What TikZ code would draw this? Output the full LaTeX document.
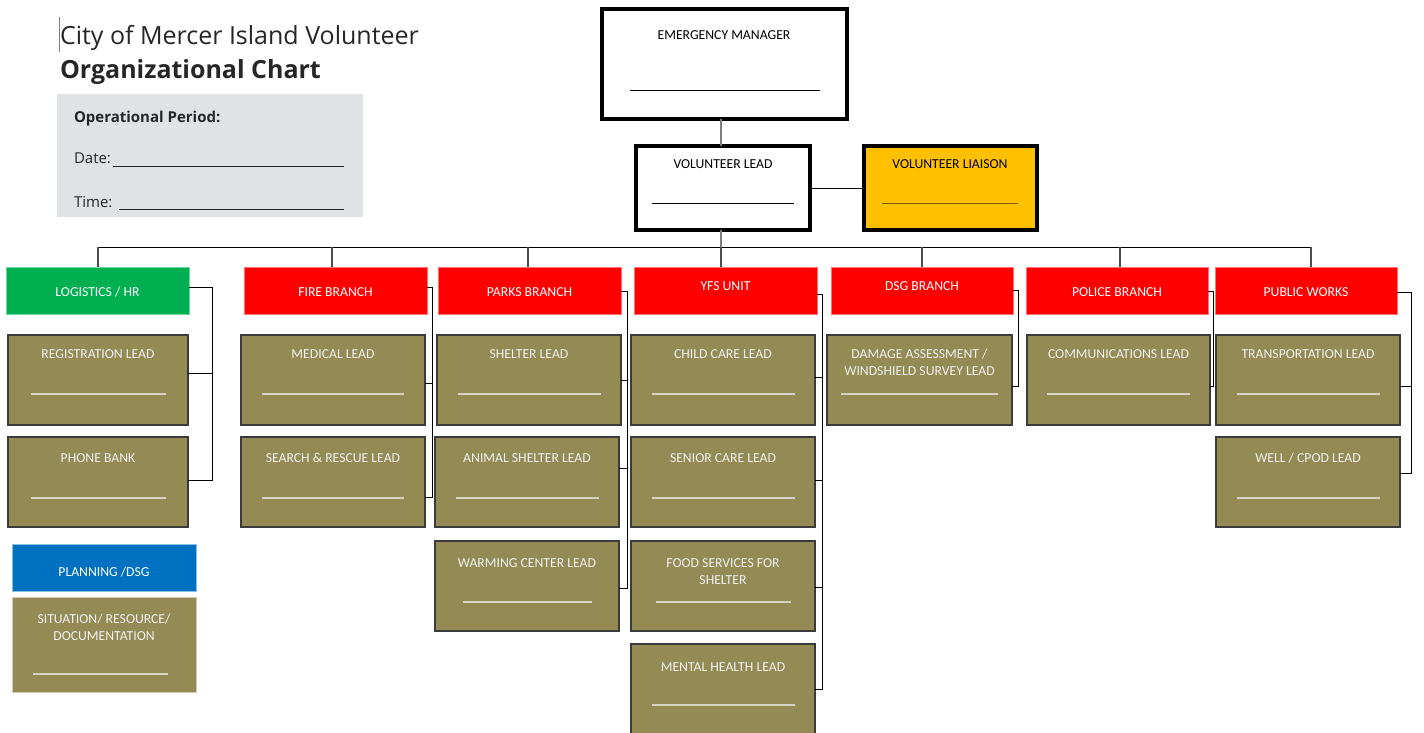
\documentclass[tikz,border=0pt]{standalone}
\usepackage{fontspec}
\setmainfont{Carlito}
\newfontfamily\uifont{Open Sans}
\usetikzlibrary{calc}

\definecolor{leadolive}{HTML}{948A54}
\definecolor{leadedge}{HTML}{3B3B3B}
\definecolor{leadink}{HTML}{F2F2F2}
\definecolor{leadrulec}{HTML}{D6D3C4}
\definecolor{branchred}{HTML}{FF0000}
\definecolor{logigreen}{HTML}{00B050}
\definecolor{planblue}{HTML}{0070C0}
\definecolor{liaisongold}{HTML}{FFC000}
\definecolor{liaisonrule}{HTML}{7F6000}
\definecolor{formgray}{HTML}{E1E2E4}
\definecolor{stemgray}{HTML}{7F7F7F}
\definecolor{dropgray}{HTML}{4D4D4D}
\definecolor{inkdark}{HTML}{262626}

\tikzset{
  x=1pt, y=-1pt,
  every node/.style={inner sep=0pt, outer sep=0pt},
  labelfont/.style={font=\fontsize{13.7pt}{17pt}\selectfont},
  leadbox/.style={rectangle, draw=leadedge, line width=1.6pt, fill=leadolive, minimum height=90pt},
  leadtxt/.style={labelfont, text=leadink, align=center},
  leadrule/.style={draw=leadrulec, line width=1.2pt},
  branchbox/.style={rectangle, line width=0.8pt, minimum height=47pt},
  branchtxt/.style={labelfont, text=white},
  topbox/.style={rectangle, draw=black, line width=4pt, minimum height=84pt},
  toptxt/.style={labelfont, text=black},
  wire/.style={draw=black, line width=1pt},
  drop/.style={draw=dropgray, line width=1.5pt},
  stem/.style={draw=stemgray, line width=2pt},
  formtxt/.style={font=\uifont\fontsize{15pt}{18pt}\selectfont, text=inkdark},
  titletxt/.style={font=\uifont\fontsize{25pt}{30pt}\selectfont, text=inkdark},
}

% #1 name, #2 left, #3 top, #4 width, #5 label, #6 drop to last baseline, #7 rule drop, #8 rule half-length
\newcommand\leadcard[8]{%
  \node[leadbox, minimum width=#4pt, anchor=north west] (#1) at (#2,#3) {};
  \node[leadtxt, anchor=base] (#1-txt) at ([yshift=-#6pt]#1.north) {#5};
  \draw[leadrule] ([shift={(-#8pt,-#7pt)}]#1.north) -- ([shift={(#8pt,-#7pt)}]#1.north);
}
% #1 name, #2 left, #3 width, #4 fill, #5 label, #6 baseline y
\newcommand\branchcard[6]{%
  \node[branchbox, fill=#4, draw=#4!55!white, minimum width=#3pt, anchor=north west] (#1) at (#2,267) {};
  \node[branchtxt, anchor=base] (#1-txt) at (#1.north |- 0,#6) {#5};
}

\begin{document}
\begin{tikzpicture}
\useasboundingbox (0,0) rectangle (1424,733);
\fill[white] (0,0) rectangle (1424,733);

% ---- title and operational period form
\draw[stemgray, line width=0.8pt] (59.5,17) -- (59.5,52);
\node[titletxt, anchor=base west] (title1) at (60,45) {City of Mercer Island Volunteer};
\node[titletxt, font=\uifont\bfseries\fontsize{25pt}{30pt}\selectfont, anchor=base west] (title2) at (60,79) {Organizational Chart};

\node[rectangle, fill=formgray, minimum width=306pt, minimum height=123pt, anchor=north west] (period) at (57,94) {};
\node[formtxt, font=\uifont\bfseries\fontsize{15pt}{18pt}\selectfont, anchor=base west] (period-head) at (74,123) {Operational Period:};
\node[formtxt, anchor=base west] (period-date) at (74,164) {Date:};
\draw[inkdark, line width=1pt] (113,166) -- (344,166);
\node[formtxt, anchor=base west] (period-time) at (74,207) {Time:};
\draw[inkdark, line width=1pt] (119,209) -- (344,209);

% ---- command staff
\node[topbox, fill=white, minimum width=245pt, minimum height=110.5pt, anchor=north west] (em) at (602,9) {};
\node[toptxt, anchor=base] (em-txt) at (724,39.5) {EMERGENCY MANAGER};
\draw[black, line width=0.9pt] (630,90) -- (820,90);

\node[topbox, fill=white, minimum width=174pt, anchor=north west] (vl) at (636,146) {};
\node[toptxt, anchor=base] (vl-txt) at (723,168) {VOLUNTEER LEAD};
\draw[black, line width=0.9pt] (652,203) -- (794,203);

\node[topbox, fill=liaisongold, minimum width=173pt, anchor=north west] (vli) at (864,146) {};
\node[toptxt, anchor=base] (vli-txt) at (950,168) {VOLUNTEER LIAISON};
\draw[liaisonrule, line width=0.9pt] (882,203) -- (1018,203);

\draw[stem] (em.south -| 721,0) -- (vl.north -| 721,0);
\draw[wire] (vl.east |- 0,188) -- (vli.west |- 0,188);
\draw[stem] (vl.south -| 721,0) -- (721,247);

% ---- branch headers
\branchcard{logi}{6}{183}{logigreen}{LOGISTICS / HR}{296.5}
\branchcard{fire}{244}{183}{branchred}{FIRE BRANCH}{296.5}
\branchcard{parks}{438}{183}{branchred}{PARKS BRANCH}{296.5}
\branchcard{yfs}{634}{183}{branchred}{YFS UNIT}{290.5}
\branchcard{dsg}{831}{182}{branchred}{DSG BRANCH}{290.5}
\branchcard{police}{1026}{182}{branchred}{POLICE BRANCH}{296.5}
\branchcard{works}{1215}{182}{branchred}{PUBLIC WORKS}{296.5}

% ---- distribution bar
\coordinate (busL) at (98,247);
\coordinate (busR) at (1311,247);
\draw[wire] (busL) -- (busR);
\foreach \x/\n in {98/logi,332/fire,528/parks,721/yfs,922/dsg,1120/police,1311/works}
  \draw[drop] (\x,247) -- (\x,247 |- \n.north);

% ---- leads
\leadcard{reg}{8}{335}{180}{REGISTRATION LEAD}{23.5}{59}{67.5}
\leadcard{phone}{8}{437}{180}{PHONE BANK}{25.5}{61}{67.5}
\leadcard{med}{241}{335}{184}{MEDICAL LEAD}{23.5}{59}{71}
\leadcard{sar}{241}{437}{184}{SEARCH \& RESCUE LEAD}{25.5}{61}{71}
\leadcard{shelter}{437}{335}{184}{SHELTER LEAD}{23.5}{59}{71.5}
\leadcard{animal}{435}{437}{184}{ANIMAL SHELTER LEAD}{25.5}{61}{71.5}
\leadcard{warm}{435}{541}{184}{WARMING CENTER LEAD}{26.5}{61}{64.5}
\leadcard{child}{631}{335}{184}{CHILD CARE LEAD}{23.5}{59}{71.5}
\leadcard{senior}{631}{437}{184}{SENIOR CARE LEAD}{25.5}{61}{71.5}
\leadcard{food}{631}{541}{184}{FOOD SERVICES FOR\\SHELTER}{43.5}{61}{67.5}
\leadcard{mental}{631}{644}{184}{MENTAL HEALTH LEAD}{27.5}{61}{71.5}
\leadcard{da}{827}{335}{185}{DAMAGE ASSESSMENT /\\WINDSHIELD SURVEY LEAD}{40.5}{59}{78.5}
\leadcard{comm}{1027}{335}{183}{COMMUNICATIONS LEAD}{23.5}{59}{71.5}
\leadcard{trans}{1216}{335}{184}{TRANSPORTATION LEAD}{23.5}{59}{71.5}
\leadcard{well}{1216}{437}{184}{WELL / CPOD LEAD}{25.5}{61}{71.5}

% ---- planning section
\node[branchbox, fill=planblue, draw=planblue!45!white, minimum width=184pt, anchor=north west] (plan) at (12,544) {};
\node[branchtxt, anchor=base] (plan-txt) at (plan.north |- 0,576.5) {PLANNING /DSG};
\node[leadbox, draw=leadolive!45!white, line width=1pt, minimum width=184pt, minimum height=95pt, anchor=north west] (sit) at (12,597) {};
\node[leadtxt, anchor=base] (sit-txt) at (sit.north |- 0,640.5) {SITUATION/ RESOURCE/\\DOCUMENTATION};
\draw[leadrule] (33,674) -- (168,674);

% ---- branch brackets
\draw[wire] (logi.east |- 0,287) -- (212,287) -- (212,480) -- (phone.east |- 0,480);
\draw[wire] (212,373) -- (reg.east |- 0,373);

\draw[wire] (fire.east |- 0,287) -- (432,287) -- (432,497) -- (sar.east |- 0,497);
\draw[wire] (432,383) -- (med.east |- 0,383);

\draw[wire] (parks.east |- 0,291) -- (627,291) -- (627,588) -- (warm.east |- 0,588);
\draw[wire] (627,380) -- (shelter.east |- 0,380);
\draw[wire] (627,468) -- (animal.east |- 0,468);

\draw[wire] (yfs.east |- 0,294) -- (822,294) -- (822,689) -- (mental.east |- 0,689);
\draw[wire] (822,377) -- (child.east |- 0,377);
\draw[wire] (822,480) -- (senior.east |- 0,480);
\draw[wire] (822,587) -- (food.east |- 0,587);

\draw[wire] (dsg.east |- 0,290) -- (1018,290) -- (1018,386) -- (da.east |- 0,386);

\draw[wire] (police.east |- 0,291) -- (1213,291) -- (1213,386) -- (comm.east |- 0,386);

\draw[wire] (works.east |- 0,292) -- (1411,292) -- (1411,473) -- (well.east |- 0,473);
\draw[wire] (1411,386) -- (trans.east |- 0,386);
\end{tikzpicture}
\end{document}
